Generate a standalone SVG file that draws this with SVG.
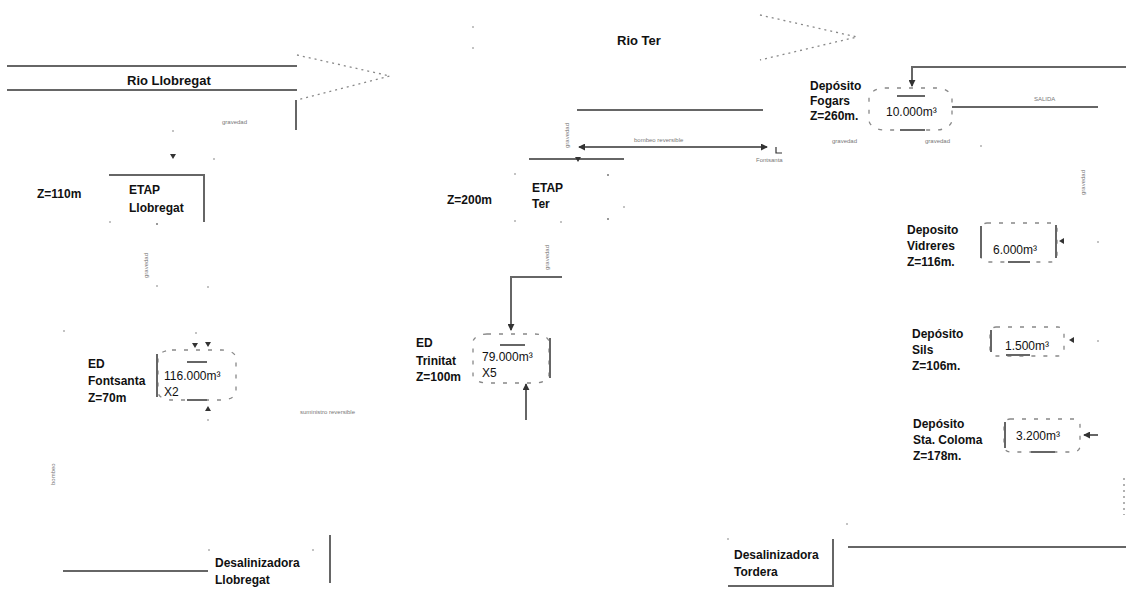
<svg xmlns="http://www.w3.org/2000/svg" width="1126" height="591" viewBox="0 0 1126 591">
<style>
.t{font-family:"Liberation Sans",Arial,sans-serif;font-size:12px;font-weight:bold;fill:#111}
.n{font-family:"Liberation Sans",Arial,sans-serif;font-size:12px;fill:#111}
.tr{font-family:"Liberation Sans",Arial,sans-serif;font-size:13px;font-weight:bold;fill:#111}
.s{font-family:"Liberation Sans",Arial,sans-serif;font-size:6px;fill:#777}
.ln{stroke:#666;stroke-width:2;fill:none}
.dt{stroke:#888;stroke-width:1.3;fill:none;stroke-dasharray:2 4}
.ds{stroke:#888;stroke-width:1.3;fill:none;stroke-dasharray:4 8}
.dot{fill:#777}
</style>
<defs>
<marker id="ah" viewBox="0 0 8 8" refX="7" refY="4" markerWidth="7" markerHeight="7" markerUnits="userSpaceOnUse" orient="auto"><path d="M0,0 L8,4 L0,8 z" fill="#333"/></marker>
<marker id="as" viewBox="0 0 8 8" refX="1" refY="4" markerWidth="7" markerHeight="7" markerUnits="userSpaceOnUse" orient="auto"><path d="M8,0 L0,4 L8,8 z" fill="#333"/></marker>
</defs>
<rect width="1126" height="591" fill="#fff"/>

<g id="rio-llobregat">
<line class="ln" x1="7" y1="66" x2="297" y2="66"/>
<line class="ln" x1="7" y1="90" x2="297" y2="90"/>
<text class="tr" x="127" y="85">Rio Llobregat</text>
<polyline class="dt" points="297,55 390,76 297,100"/>
</g>

<g id="rio-ter">
<text class="tr" x="617" y="45">Rio Ter</text>
<polyline class="dt" points="760,15 857,37 760,60"/>
<circle class="dot" cx="473" cy="27" r="0.8"/>
<circle class="dot" cx="473" cy="48" r="0.8"/>
</g>

<g id="etap-llobregat">
<polyline class="ln" points="109,175 204,175 204,222"/>
<text class="t" x="129" y="194">ETAP</text>
<text class="t" x="129" y="212">Llobregat</text>
<text class="t" x="37" y="198">Z=110m</text>
<circle class="dot" cx="110" cy="222" r="0.8"/>
<circle class="dot" cx="157" cy="224" r="1"/>
</g>

<g id="etap-ter">
<line class="ln" x1="529" y1="159" x2="624" y2="159"/>
<text class="t" x="532" y="192">ETAP</text>
<text class="t" x="532" y="208">Ter</text>
<text class="t" x="447" y="204">Z=200m</text>
<circle class="dot" cx="515" cy="174" r="0.8"/>
<circle class="dot" cx="608" cy="175" r="1"/>
<circle class="dot" cx="624" cy="207" r="0.8"/>
<circle class="dot" cx="608" cy="219" r="1"/>
<circle class="dot" cx="515" cy="221" r="0.8"/>
<circle class="dot" cx="561" cy="222" r="0.8"/>
</g>

<g id="ed-fontsanta">
<rect class="ds" x="158" y="350" width="78" height="50" rx="14" ry="8"/>
<line class="ln" x1="157" y1="354" x2="157" y2="397" stroke-width="1.5"/>
<line class="ln" x1="187" y1="362" x2="207" y2="362" stroke-width="1.5"/>
<line class="ln" x1="187" y1="400" x2="207" y2="400" stroke-width="1.5"/>
<text class="n" x="164" y="380">116.000m³</text>
<text class="n" x="164" y="396">X2</text>
<text class="t" x="88" y="368">ED</text>
<text class="t" x="88" y="385">Fontsanta</text>
<text class="t" x="88" y="402">Z=70m</text>
</g>

<g id="ed-trinitat">
<rect class="ds" x="473" y="334" width="76" height="49" rx="14" ry="8"/>
<line class="ln" x1="550" y1="338" x2="550" y2="378" stroke-width="1.5"/>
<line class="ln" x1="500" y1="345" x2="525" y2="345" stroke-width="1.5"/>
<text class="n" x="482" y="361">79.000m³</text>
<text class="n" x="482" y="377">X5</text>
<text class="t" x="416" y="347">ED</text>
<text class="t" x="416" y="365">Trinitat</text>
<text class="t" x="416" y="381">Z=100m</text>
</g>

<g id="dep-fogars">
<rect class="ds" x="869" y="88" width="83" height="42" rx="16" ry="10"/>
<line class="ln" x1="897" y1="96" x2="925" y2="96" stroke-width="1.5"/>
<line class="ln" x1="900" y1="130" x2="925" y2="130" stroke-width="1.5"/>
<text class="n" x="886" y="116">10.000m³</text>
<text class="t" x="810" y="90">Depósito</text>
<text class="t" x="810" y="105">Fogars</text>
<text class="t" x="810" y="120">Z=260m.</text>
</g>

<g id="dep-vidreres">
<rect class="ds" x="981" y="223" width="76" height="39" rx="6"/>
<line class="ln" x1="981" y1="226" x2="981" y2="258" stroke-width="1.2"/>
<line class="ln" x1="1056" y1="225" x2="1056" y2="258" stroke-width="1.5"/>
<line class="ln" x1="1008" y1="262" x2="1030" y2="262" stroke-width="1.5"/>
<text class="n" x="993" y="254">6.000m³</text>
<text class="t" x="907" y="234">Deposito</text>
<text class="t" x="907" y="250">Vidreres</text>
<text class="t" x="907" y="266">Z=116m.</text>
</g>

<g id="dep-sils">
<rect class="ds" x="990" y="327" width="74" height="29" rx="6"/>
<line class="ln" x1="991" y1="330" x2="991" y2="352" stroke-width="1.2"/>
<line class="ln" x1="1006" y1="355" x2="1030" y2="355" stroke-width="1.5"/>
<text class="n" x="1005" y="350">1.500m³</text>
<text class="t" x="912" y="338">Depósito</text>
<text class="t" x="912" y="354">Sils</text>
<text class="t" x="912" y="370">Z=106m.</text>
</g>

<g id="dep-sta-coloma">
<rect class="ds" x="1004" y="419" width="76" height="33" rx="6"/>
<line class="ln" x1="1005" y1="422" x2="1005" y2="448" stroke-width="1.2"/>
<line class="ln" x1="1031" y1="452" x2="1055" y2="452" stroke-width="1.5"/>
<text class="n" x="1016" y="440">3.200m³</text>
<text class="t" x="913" y="428">Depósito</text>
<text class="t" x="913" y="444">Sta. Coloma</text>
<text class="t" x="913" y="460">Z=178m.</text>
</g>

<g id="desal-llobregat">
<text class="t" x="215" y="567">Desalinizadora</text>
<text class="t" x="215" y="584">Llobregat</text>
<line class="ln" x1="330" y1="535" x2="330" y2="583"/>
<circle class="dot" cx="209" cy="550" r="0.8"/>
<circle class="dot" cx="313" cy="550" r="0.8"/>
</g>

<g id="desal-tordera">
<polyline class="ln" points="728,586 833,586 833,539"/>
<text class="t" x="734" y="559">Desalinizadora</text>
<text class="t" x="734" y="576">Tordera</text>
<circle class="dot" cx="728" cy="539" r="0.8"/>
</g>

<g id="connectors">
<line class="ln" x1="296" y1="100" x2="296" y2="130"/>
<text class="s" x="222" y="124">gravedad</text>
<circle class="dot" cx="173" cy="131" r="0.8"/>
<circle class="dot" cx="214" cy="159" r="0.8"/>
<path d="M170,154 L176,154 L173,159 z" fill="#333"/>
<line class="ln" x1="577" y1="110" x2="763" y2="110"/>
<line class="ln" x1="579" y1="147" x2="767" y2="147" marker-start="url(#as)" marker-end="url(#ah)"/>
<text class="s" x="634" y="142">bombeo reversible</text>
<text class="s" x="756" y="162">Fontsanta</text>
<path d="M776,147 L776,153 L782,153" stroke="#333" stroke-width="1.2" fill="none"/>
<text class="s" transform="translate(569,148) rotate(-90)">gravedad</text>
<path d="M575,157 L581,157 L578,162 z" fill="#333"/>
<text class="s" transform="translate(148,278) rotate(-90)">gravedad</text>
<circle class="dot" cx="157" cy="286" r="0.8"/>
<circle class="dot" cx="208" cy="287" r="0.8"/>
<circle class="dot" cx="64" cy="331" r="0.8"/>
<circle class="dot" cx="196" cy="333" r="0.8"/>
<path d="M192,343 L198,343 L195,348 z" fill="#333"/>
<path d="M205,342 L211,342 L208,347 z" fill="#333"/>
<path d="M205,411 L211,411 L208,406 z" fill="#333"/>
<circle class="dot" cx="208" cy="420" r="0.8"/>
<text class="s" x="300" y="414">suministro reversible</text>
<text class="s" transform="translate(55,485) rotate(-90)">bombeo</text>
<line class="ln" x1="63" y1="571" x2="208" y2="571"/>
<text class="s" transform="translate(549,270) rotate(-90)">gravedad</text>
<polyline class="ln" points="562,277 511,277 511,330" marker-end="url(#ah)"/>
<line class="ln" x1="526" y1="420" x2="526" y2="384" marker-end="url(#ah)"/>
<polyline class="ln" points="1126,67 912,67 912,86" marker-end="url(#ah)"/>
<line class="ln" x1="952" y1="107" x2="1098" y2="107"/>
<text class="s" x="1034" y="101">SALIDA</text>
<text class="s" x="832" y="143">gravedad</text>
<text class="s" x="925" y="143">gravedad</text>
<circle class="dot" cx="981" cy="146" r="0.8"/>
<text class="s" transform="translate(1085,195) rotate(-90)">gravedad</text>
<path d="M1064,238 L1064,244 L1059,241 z" fill="#333"/>
<circle class="dot" cx="1098" cy="242" r="0.8"/>
<path d="M1074,337 L1074,343 L1069,340 z" fill="#333"/>
<circle class="dot" cx="1098" cy="341" r="0.8"/>
<line class="ln" x1="1098" y1="435" x2="1084" y2="435" stroke-width="1.2" marker-end="url(#ah)"/>
<line class="dt" x1="1124" y1="478" x2="1124" y2="515"/>
<circle class="dot" cx="847" cy="524" r="0.8"/>
<line class="ln" x1="848" y1="547" x2="1126" y2="547"/>
</g>
</svg>
